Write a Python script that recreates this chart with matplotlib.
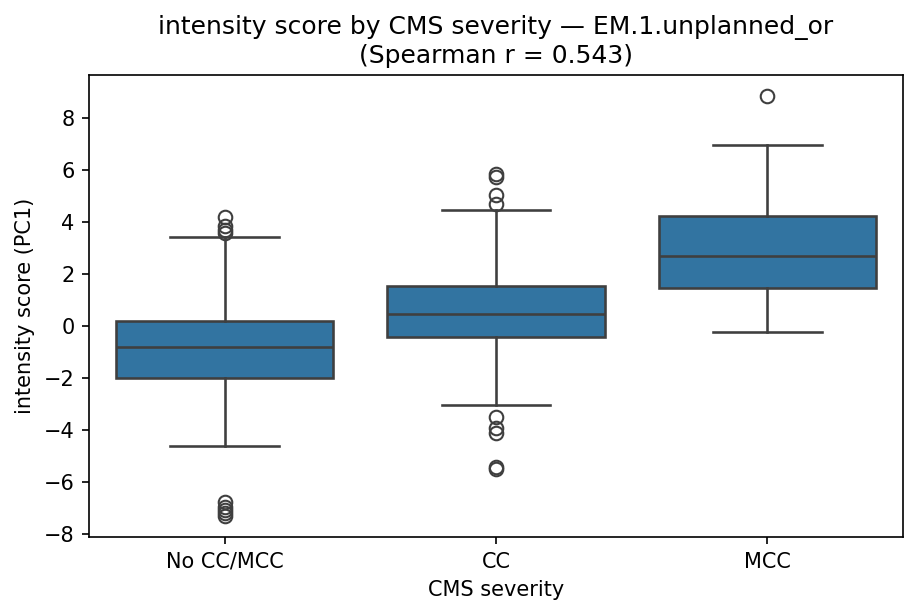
import matplotlib
matplotlib.use("Agg")
import matplotlib.pyplot as plt

categories = ["No CC/MCC", "CC", "MCC"]
q1 = [-1.99, -0.41, 1.47]
median = [-0.80, 0.46, 2.67]
q3 = [0.20, 1.54, 4.23]
whisker_low = [-4.62, -3.04, -0.22]
whisker_high = [3.43, 4.44, 6.96]
fliers = [
    [4.20, 3.85, 3.67, 3.58, -6.76, -6.95, -7.08, -7.20, -7.33],
    [5.85, 5.72, 5.04, 4.69, -3.49, -3.94, -4.13, -5.44, -5.50],
    [8.85],
]

stats = []
for i, c in enumerate(categories):
    stats.append(dict(label=c, q1=q1[i], med=median[i], q3=q3[i],
                      whislo=whisker_low[i], whishi=whisker_high[i],
                      fliers=fliers[i]))

fig = plt.figure(figsize=(917/150, 615/150), dpi=150)
ax = fig.add_axes([89/917, 1 - 537/615, (903-89)/917, (537-75)/615])

lc = "#3f3f3f"
lw = 1.25
ax.bxp(stats, positions=range(len(categories)), widths=0.8, patch_artist=True,
       boxprops=dict(facecolor="#3274a1", edgecolor=lc, linewidth=lw),
       medianprops=dict(color=lc, linewidth=lw),
       whiskerprops=dict(color=lc, linewidth=lw),
       capprops=dict(color=lc, linewidth=lw),
       flierprops=dict(marker="o", markerfacecolor="none", markeredgecolor=lc,
                       markersize=6.5, markeredgewidth=1.0),
       capwidths=0.4)
ax.set_xlim(-0.5, 2.5)
ax.set_ylim(-8.12, 9.65)
ax.set_xticks(range(len(categories)))
ax.set_xticklabels(categories)
ax.set_yticks([-8, -6, -4, -2, 0, 2, 4, 6, 8])
ax.set_xlabel("CMS severity")
ax.set_ylabel("intensity score (PC1)")
ax.set_title("intensity score by CMS severity — EM.1.unplanned_or\n(Spearman r = 0.543)")
fig.savefig("out.png", dpi=150)
